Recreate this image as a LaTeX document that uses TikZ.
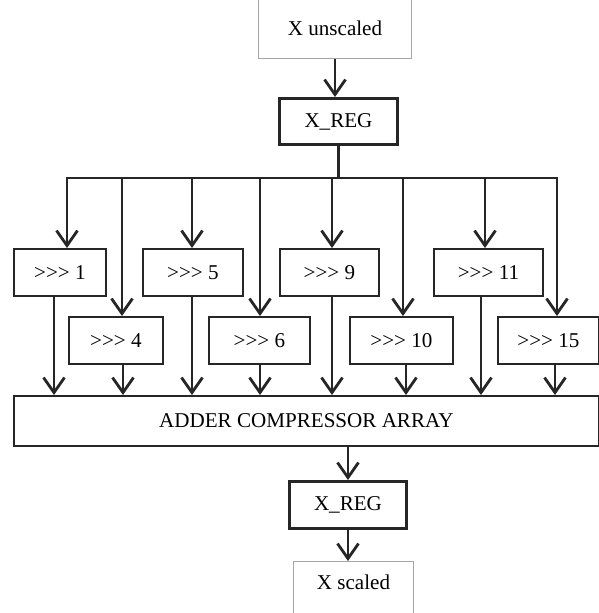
\documentclass[tikz,border=0pt]{standalone}
\usepackage{fontspec}
\setmainfont{Liberation Serif}
\usetikzlibrary{arrows.meta}
\colorlet{myline}{black!85}
\colorlet{mygray}{black!35}

\begin{document}
\begin{tikzpicture}[x=0.02cm,y=-0.02cm,font=\fontsize{12}{14}\selectfont,
		box/.style={draw=myline,line width=1.1pt,inner sep=0pt,anchor=north west,minimum height=0.94cm},
		regbox/.style={box,line width=1.7pt},
		iobox/.style={box,draw=mygray,line width=0.6pt},
		conn/.style={line width=1.6pt,draw=myline},
		arr/.style={conn,-{Straight Barb[length=0.3cm,width=0.42cm]}}]
		\useasboundingbox (0,0) rectangle (599,613);
		\clip (0,0) rectangle (599,613);
		
		% input, register and adder array
		\node[iobox,minimum width=3.06cm,minimum height=1.22cm] (xin) at (258,-3) {X unscaled};
		\node[regbox,minimum width=2.36cm,minimum height=0.92cm] (reg1) at (278,97) {X\_REG};
		\node[box,minimum width=11.7cm,minimum height=1.0cm] (adder) at (13,395) {ADDER COMPRESSOR ARRAY};
		\node[regbox,minimum width=2.34cm] (reg2) at (288,480) {X\_REG};
		\node[iobox,minimum width=2.4cm,minimum height=1.2cm,text depth=0.36cm] (xout) at (293,561) {X scaled};
		
		% shift boxes, upper and lower row
		\foreach \n/\x/\y/\w in {1/13/248/1.84, 5/142/248/2.0, 9/279/248/1.98, 11/433/248/2.18,
			4/68/316/1.88, 6/208/316/2.02, 10/349/316/2.06, 15/497/316/2.02}
			\node[box,minimum width=\w cm] (s\n) at (\x,\y) {{>}{>}{>} \n};
		
		% taps on the bus and on the adder
		\foreach \n/\xi/\xo in {1/67/54, 4/122/123, 5/192/192, 6/260/260, 9/332/332, 10/403/406, 11/485/481, 15/557/555} {
			\coordinate (in\n) at (\xi,178);
			\coordinate (out\n) at (\xo,395);
			\draw[arr] (in\n) -- (in\n |- s\n.north);
			\draw[arr] (out\n |- s\n.south) -- (out\n |- adder.north);
		}
		
		% bus
		\draw[arr] (xin.south) -- (xin.south |- reg1.north);
		\draw[conn] (reg1.south) -- (reg1.south |- in1);
		\draw[conn,line cap=rect] (in1) -- (in15);
		
		% output path
		\draw[arr] (reg2.north |- adder.south) -- (reg2.north);
		\draw[arr] (reg2.south) -- (reg2.south |- xout.north);
	\end{tikzpicture}
\end{document}
